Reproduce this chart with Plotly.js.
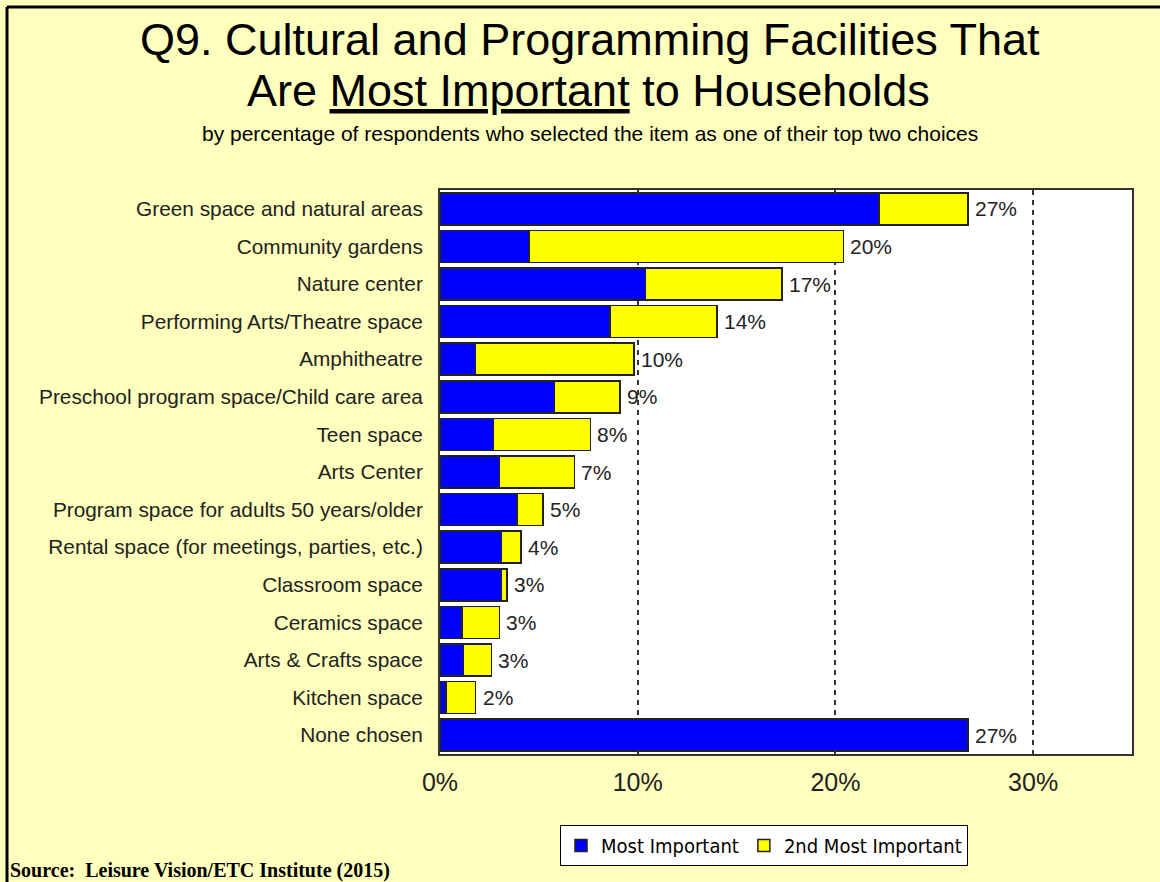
<!DOCTYPE html>
<html>
<head>
<meta charset="utf-8">
<script src="https://cdn.plot.ly/plotly-3.0.1.min.js"></script>
<style>
  html, body { margin: 0; padding: 0; background: #FFFFBE; }
  #chart { width: 1160px; height: 882px; }
</style>
</head>
<body>
<div id="chart"></div>
<script>
const categories = [
  "Green space and natural areas",
  "Community gardens",
  "Nature center",
  "Performing Arts/Theatre space",
  "Amphitheatre",
  "Preschool program space/Child care area",
  "Teen space",
  "Arts Center",
  "Program space for adults 50 years/older",
  "Rental space (for meetings, parties, etc.)",
  "Classroom space",
  "Ceramics space",
  "Arts & Crafts space",
  "Kitchen space",
  "None chosen"
];
const mostImportant = [22.2, 4.5, 10.4, 8.6, 1.8, 5.8, 2.7, 3.0, 3.9, 3.1, 3.1, 1.1, 1.2, 0.3, 26.7];
const secondMostImportant = [4.5, 15.9, 6.9, 5.4, 8.0, 3.3, 4.9, 3.8, 1.3, 1.0, 0.3, 1.9, 1.4, 1.5, 0];
const totalLabels = ["27%", "20%", "17%", "14%", "10%", "9%", "8%", "7%", "5%", "4%", "3%", "3%", "3%", "2%", "27%"];
const xTickVals = [0, 10, 20, 30];
const xTickText = ["0%", "10%", "20%", "30%"];

const totals = mostImportant.map((v, i) => v + secondMostImportant[i]);

const traces = [
  {
    type: "bar", orientation: "h", name: "Most Important",
    y: categories, x: mostImportant,
    marker: { color: "#0000FF", line: { color: "#222222", width: 1.5 } },
    hoverinfo: "x+y"
  },
  {
    type: "bar", orientation: "h", name: "2nd Most Important",
    y: categories, x: secondMostImportant,
    marker: { color: "#FFFF00", line: { color: "#222222", width: 1.5 } },
    hoverinfo: "x+y"
  }
];

const valueAnnotations = categories.map((c, i) => ({
  x: totals[i], y: c, xref: "x", yref: "y",
  text: totalLabels[i], showarrow: false,
  xanchor: "left", yanchor: "middle", xshift: 5,
  font: { family: "Arial, Liberation Sans, sans-serif", size: 21, color: "#222222" }
}));

const W = 1160, H = 882;
const mL = 440, mR = 28, mT = 190, mB = 128;
const pw = W - mL - mR, ph = H - mT - mB;
function px2x(px) { return (px - mL) / pw; }
function py2y(py) { return (H - mB - py) / ph; }

const otherAnnotations = [
  {
    xref: "paper", yref: "paper", x: px2x(590), y: py2y(39),
    text: "Q9. Cultural and Programming Facilities That",
    showarrow: false, xanchor: "center", yanchor: "middle",
    font: { family: "Arial, Liberation Sans, sans-serif", size: 45, color: "#000000" }
  },
  {
    xref: "paper", yref: "paper", x: px2x(588), y: py2y(90),
    text: "Are <u>Most Important</u> to Households",
    showarrow: false, xanchor: "center", yanchor: "middle",
    font: { family: "Arial, Liberation Sans, sans-serif", size: 45, color: "#000000" }
  },
  {
    xref: "paper", yref: "paper", x: px2x(590), y: py2y(133),
    text: "by percentage of respondents who selected the item as one of their top two choices",
    showarrow: false, xanchor: "center", yanchor: "middle",
    font: { family: "Arial, Liberation Sans, sans-serif", size: 21, color: "#000000" }
  },
  {
    xref: "paper", yref: "paper", x: px2x(8), y: py2y(870),
    text: "<b>Source:  Leisure Vision/ETC Institute (2015)</b>",
    showarrow: false, xanchor: "left", yanchor: "middle",
    font: { family: "Liberation Serif, Times New Roman, serif", size: 20, color: "#000000" }
  }
];

const layout = {
  width: W, height: H,
  paper_bgcolor: "#FFFFBE",
  plot_bgcolor: "#FFFFFF",
  margin: { l: mL, r: mR, t: mT, b: mB, pad: 0 },
  barmode: "stack",
  bargap: 0.15,
  xaxis: {
    range: [0, 35],
    tickvals: xTickVals, ticktext: xTickText,
    showgrid: true, gridcolor: "#333333", gridwidth: 2, griddash: "5px,5px",
    zeroline: false,
    showline: true, linecolor: "#333333", linewidth: 2, mirror: "ticks",
    ticks: "inside", ticklen: 4, tickcolor: "#333333", tickwidth: 2,
    ticklabelstandoff: 5,
    tickfont: { family: "Arial, Liberation Sans, sans-serif", size: 25, color: "#222222" },
    fixedrange: true
  },
  yaxis: {
    type: "category",
    autorange: "reversed",
    showgrid: false, zeroline: false,
    showline: true, linecolor: "#333333", linewidth: 2, mirror: true,
    ticks: "", ticklabelstandoff: 11,
    tickfont: { family: "Arial, Liberation Sans, sans-serif", size: 20.8, color: "#222222" },
    fixedrange: true
  },
  legend: {
    orientation: "h", traceorder: "normal",
    x: px2x(560), y: py2y(825), xanchor: "left", yanchor: "top",
    bgcolor: "#FFFFFF", bordercolor: "#000000", borderwidth: 1,
    font: { family: "DejaVu Sans Condensed, Liberation Sans Narrow, Arial Narrow, sans-serif", size: 20, color: "#000000" },
    itemwidth: 30, tracegroupgap: 0
  },
  annotations: valueAnnotations.concat(otherAnnotations),
  shapes: [
    { type: "line", xref: "paper", yref: "paper", x0: px2x(7), x1: px2x(7), y0: py2y(7), y1: py2y(H + 5), line: { color: "#000000", width: 3 } },
    { type: "line", xref: "paper", yref: "paper", x0: px2x(7), x1: px2x(W + 5), y0: py2y(7), y1: py2y(7), line: { color: "#000000", width: 3 } }
  ],
  showlegend: true
};

Plotly.newPlot("chart", traces, layout, { displayModeBar: false, staticPlot: true });
</script>
</body>
</html>
